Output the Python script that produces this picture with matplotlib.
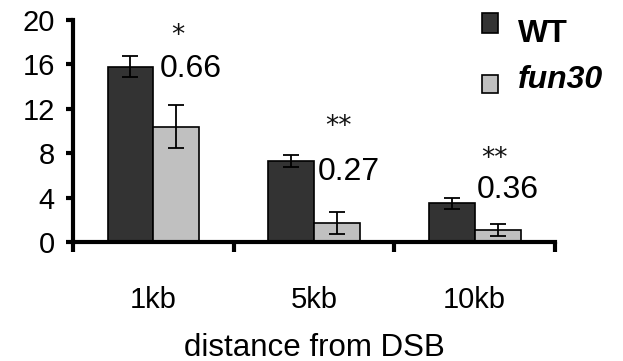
import matplotlib
matplotlib.use("Agg")
import matplotlib.pyplot as plt
import numpy as np
from matplotlib.patches import Rectangle

plt.rcParams['font.family'] = ['Liberation Sans', 'DejaVu Sans']

categories = ["1kb", "5kb", "10kb"]
wt_values = [15.8, 7.3, 3.5]
wt_err = [0.95, 0.55, 0.5]
fun30_values = [10.4, 1.7, 1.1]
fun30_err = [1.9, 1.0, 0.55]
ratio_labels = ["0.66", "0.27", "0.36"]
star_labels = ["*", "**", "**"]
yticks = [0, 4, 8, 12, 16, 20]

wt_color = "#333333"
fun30_color = "#c0c0c0"

fig = plt.figure(figsize=(6.23, 3.61), dpi=100)
ax = fig.add_axes([0.1172, 0.3296, 0.7738, 0.615])

centers = np.arange(len(categories)) + 0.5
width = 0.285

err_style = dict(ecolor="black", elinewidth=1.3, capsize=6, capthick=1.3)
ax.bar(centers - width / 2, wt_values, width, color=wt_color, edgecolor="black",
       linewidth=1.2, yerr=wt_err, error_kw=err_style, zorder=2)
ax.bar(centers + width / 2, fun30_values, width, color=fun30_color, edgecolor="black",
       linewidth=1.2, yerr=fun30_err, error_kw=err_style, zorder=2)

# fold-change ratios and significance stars above each group
ratio_pos = [(0.54, 14.9), (1.52, 5.6), (2.51, 4.0)]
star_pos = [(0.65, 17.9), (1.65, 9.7), (2.62, 6.85)]
for (rx, ry), txt in zip(ratio_pos, ratio_labels):
    ax.text(rx, ry, txt, fontsize=23, ha="left", va="baseline")
for (sx, sy), txt in zip(star_pos, star_labels):
    ax.text(sx, sy, txt, fontsize=19, ha="center", va="baseline",
            family="DejaVu Sans", color="#111111")

ax.set_xlim(0, 3)
ax.set_ylim(0, 20)
ax.set_yticks(yticks)
ax.set_yticklabels([str(t) for t in yticks], fontsize=21)
ax.set_xticks([0, 1, 2, 3])
ax.set_xticklabels([])
ax.set_xticks(centers, minor=True)
ax.set_xticklabels(categories, minor=True, fontsize=21)
ax.tick_params(axis="x", which="minor", length=0, pad=32)
ax.tick_params(axis="x", which="major", length=7, width=3, direction="out")
ax.tick_params(axis="y", length=5, width=3, direction="out", pad=8)
for side in ["top", "right"]:
    ax.spines[side].set_visible(False)
for side in ["left", "bottom"]:
    ax.spines[side].set_linewidth(3)
ax.spines["bottom"].set_zorder(3)

ax.set_xlabel("distance from DSB", fontsize=22.5, labelpad=13)

# legend: swatches and labels placed in data coordinates
ax.add_patch(Rectangle((2.545, 18.8), 0.1, 1.8, facecolor=wt_color, edgecolor="black",
                       linewidth=1.2, clip_on=False))
ax.add_patch(Rectangle((2.545, 13.4), 0.1, 1.65, facecolor=fun30_color, edgecolor="black",
                       linewidth=1.2, clip_on=False))
ax.text(2.77, 18.0, "WT", fontsize=23, fontweight="bold", va="baseline", ha="left")
ax.text(2.77, 13.9, "fun30", fontsize=23, fontweight="bold", fontstyle="italic",
        va="baseline", ha="left")

fig.savefig("out.png", dpi=100)
